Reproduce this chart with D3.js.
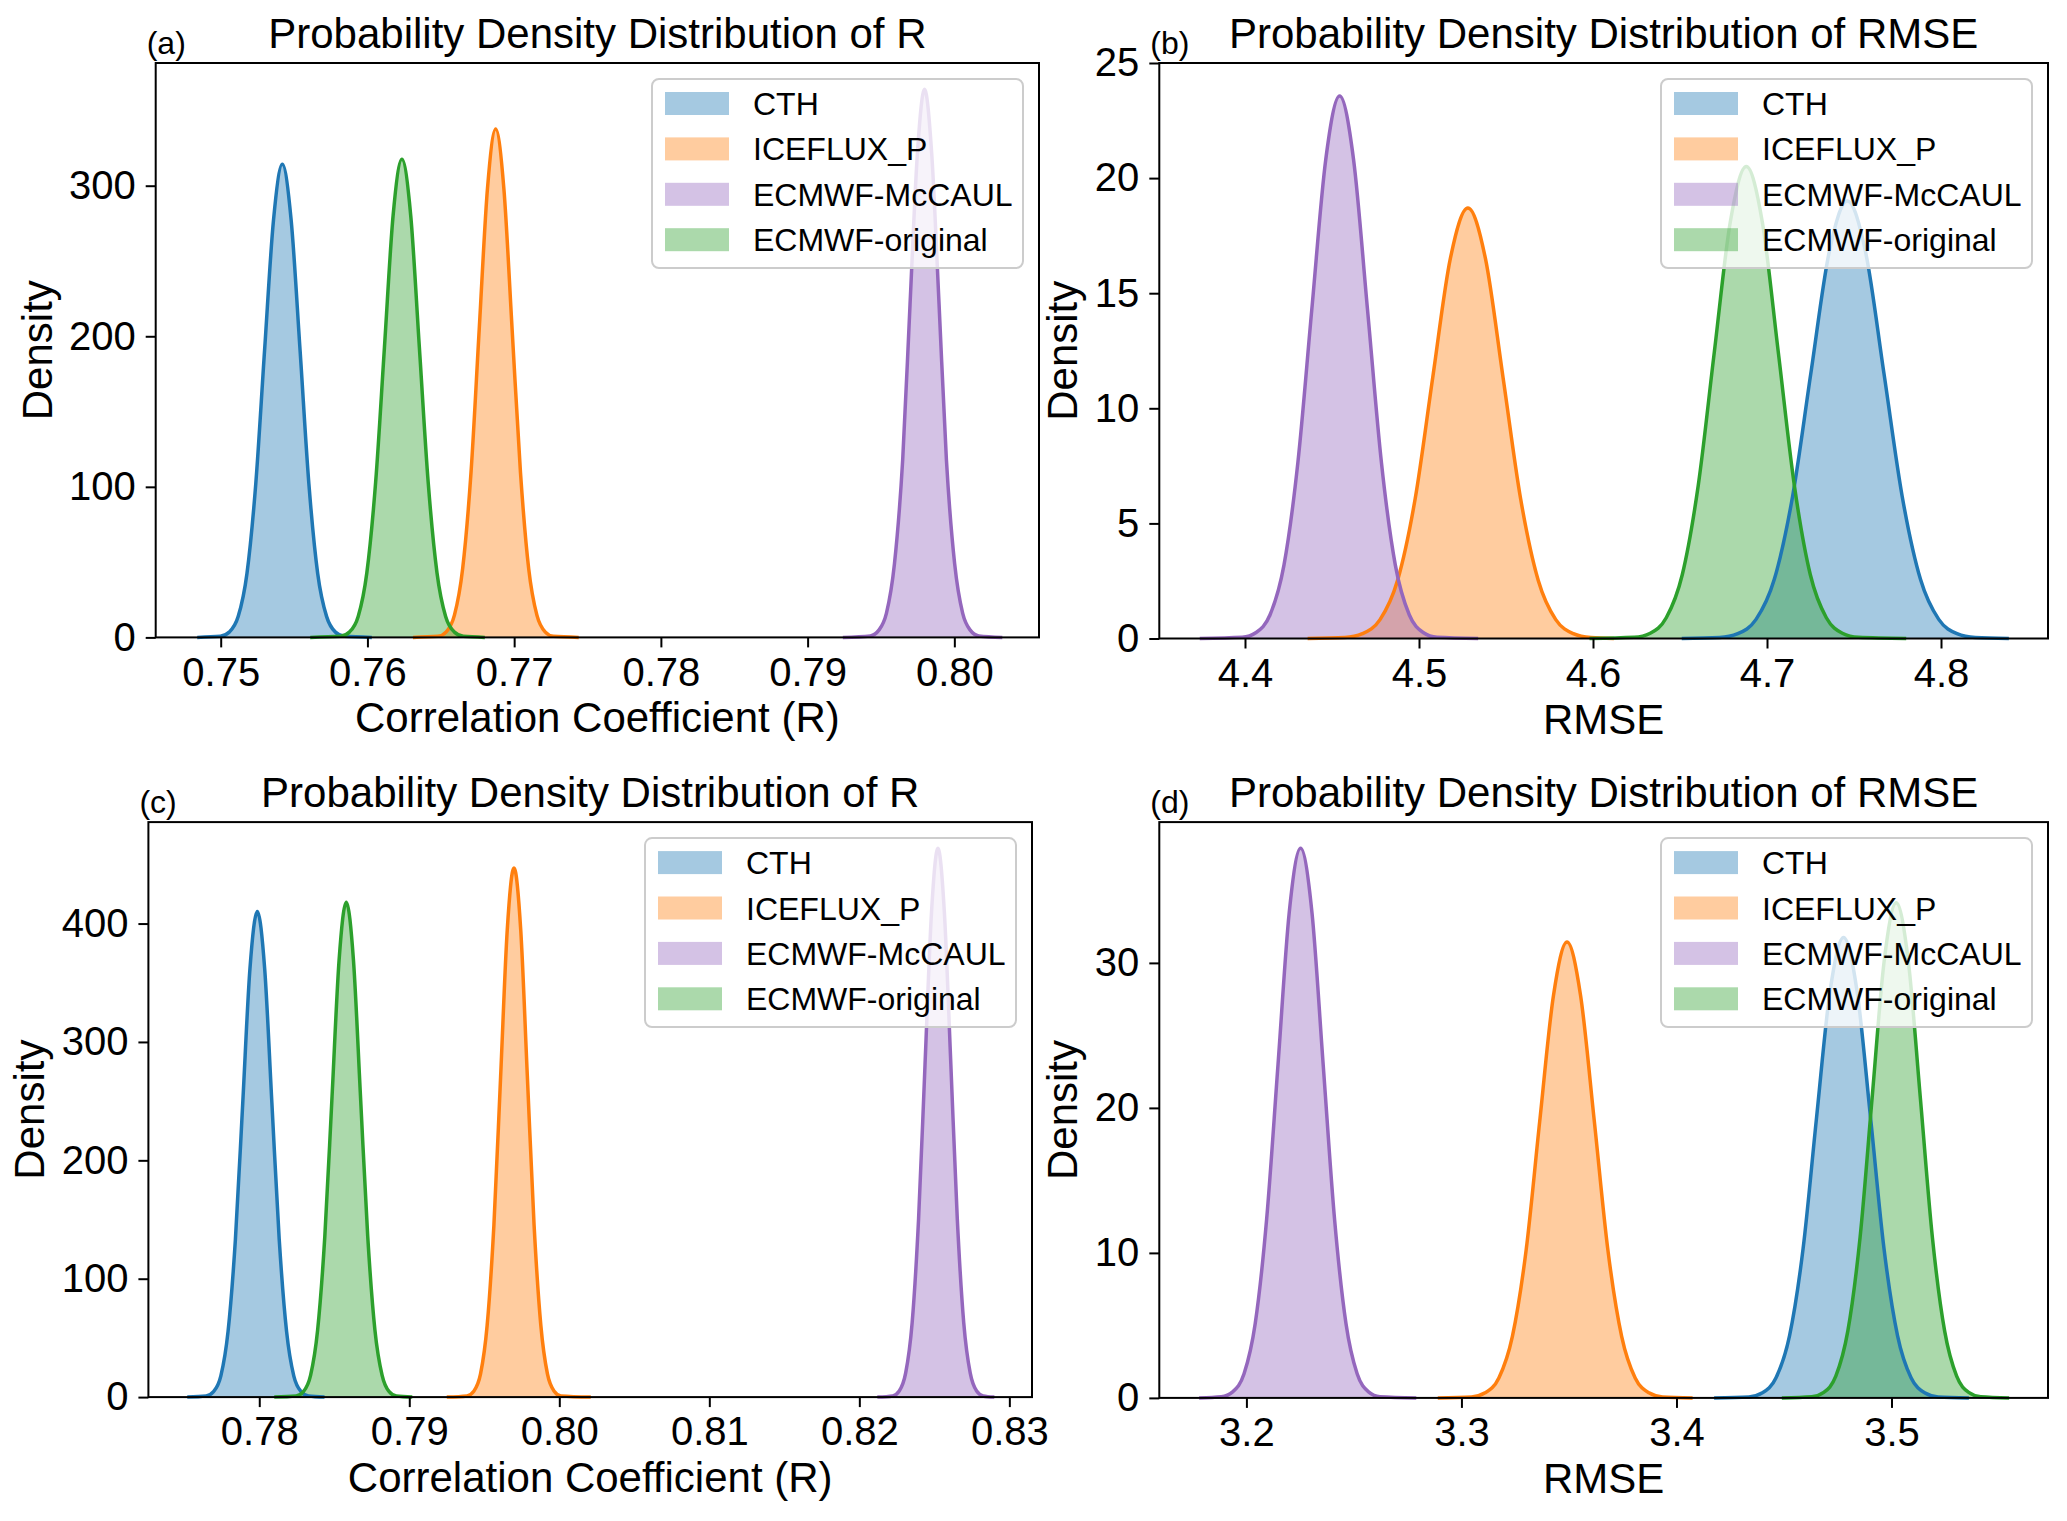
<!DOCTYPE html>
<html><head><meta charset="utf-8">
<script src="https://cdn.jsdelivr.net/npm/d3@7"></script>
<style>
body{margin:0;background:#fff}
svg{display:block}
text{font-family:"Liberation Sans", Arial, Helvetica, sans-serif;fill:#000}
</style>
</head><body>
<svg id="chart" width="2067" height="1521"></svg>
<script>
// ---------------- data ----------------
const seriesNames = ["CTH", "ICEFLUX_P", "ECMWF-McCAUL", "ECMWF-original"];
const seriesColors = ["#1f77b4", "#ff7f0e", "#9467bd", "#2ca02c"];
const panelLabels = ["(a)", "(b)", "(c)", "(d)"];
const panelTitles = ["Probability Density Distribution of R", "Probability Density Distribution of RMSE",
                     "Probability Density Distribution of R", "Probability Density Distribution of RMSE"];
const xAxisLabels = ["Correlation Coefficient (R)", "RMSE", "Correlation Coefficient (R)", "RMSE"];
const yAxisLabel = "Density";

const xTicksA = [0.75, 0.76, 0.77, 0.78, 0.79, 0.80];
const xTicksB = [4.4, 4.5, 4.6, 4.7, 4.8];
const xTicksC = [0.78, 0.79, 0.80, 0.81, 0.82, 0.83];
const xTicksD = [3.2, 3.3, 3.4, 3.5];
const yTicksA = [0, 100, 200, 300];
const yTicksB = [0, 5, 10, 15, 20, 25];
const yTicksC = [0, 100, 200, 300, 400];
const yTicksD = [0, 10, 20, 30];

const xDomainA = [0.74557, 0.80577], yDomainA = [0, 381.5];
const xDomainB = [4.35075, 4.86149], yDomainB = [0, 25.0];
const xDomainC = [0.77261, 0.83151], yDomainC = [0, 485.7];
const xDomainD = [3.15949, 3.57278], yDomainD = [0, 39.71];

// panel (a) densities of R
const a_CTH = [[0.7484,0],[0.74998,0.7],[0.75058,3.5],[0.75119,13.8],[0.75179,42.5],[0.75239,102.0],[0.75299,190.6],[0.75360,277.3],[0.75420,314.2],[0.75480,277.3],[0.75541,190.6],[0.75601,102.0],[0.75661,42.5],[0.75722,13.8],[0.75782,3.5],[0.75842,0.7],[0.7603,0]];
const a_ICE = [[0.7631,0],[0.76481,0.7],[0.76537,3.7],[0.76593,14.8],[0.76649,45.7],[0.76706,109.6],[0.76762,204.8],[0.76818,297.9],[0.76874,337.6],[0.76930,297.9],[0.76986,204.8],[0.77043,109.6],[0.77099,45.7],[0.77155,14.8],[0.77211,3.7],[0.77267,0.7],[0.7744,0]];
const a_McC = [[0.79240,0],[0.79427,1],[0.79487,5],[0.79537,16],[0.79592,49],[0.79648,118],[0.79698,221],[0.79748,321],[0.79797,364],[0.79846,321],[0.79896,221],[0.79946,118],[0.80002,49],[0.80057,16],[0.80107,5],[0.80167,1],[0.80327,0]];
const a_ORG = [[0.7561,0],[0.75817,0.7],[0.75877,3.5],[0.75937,13.9],[0.75996,43.0],[0.76056,103.1],[0.76116,192.6],[0.76175,280.2],[0.76235,317.5],[0.76295,280.2],[0.76354,192.6],[0.76414,103.1],[0.76474,43.0],[0.76533,13.9],[0.76593,3.5],[0.76653,0.7],[0.7680,0]];

// panel (b) densities of RMSE
const b_CTH = [[4.651,0],[4.6727,0.04],[4.6832,0.21],[4.6937,0.83],[4.7042,2.57],[4.7147,6.17],[4.7252,11.52],[4.7357,16.77],[4.7462,19.0],[4.7567,16.77],[4.7672,11.52],[4.7777,6.17],[4.7882,2.57],[4.7987,0.83],[4.8092,0.21],[4.8197,0.04],[4.839,0]];
const b_ICE = [[4.436,0],[4.4574,0.04],[4.4675,0.21],[4.4776,0.82],[4.4877,2.53],[4.4978,6.07],[4.5079,11.34],[4.5180,16.50],[4.5281,18.7],[4.5382,16.50],[4.5483,11.34],[4.5584,6.07],[4.5685,2.53],[4.5786,0.82],[4.5887,0.21],[4.5988,0.04],[4.612,0]];
const b_McC = [[4.374,0],[4.3984,0.05],[4.4064,0.26],[4.4144,1.03],[4.4224,3.19],[4.4304,7.65],[4.4384,14.30],[4.4464,20.80],[4.4544,23.57],[4.4624,20.80],[4.4704,14.30],[4.4784,7.65],[4.4864,3.19],[4.4944,1.03],[4.5024,0.26],[4.5104,0.05],[4.534,0]];
const b_ORG = [[4.598,0],[4.6237,0.05],[4.6329,0.23],[4.6421,0.90],[4.6513,2.77],[4.6605,6.66],[4.6697,12.43],[4.6789,18.09],[4.6881,20.5],[4.6973,18.09],[4.7065,12.43],[4.7157,6.66],[4.7249,2.77],[4.7341,0.90],[4.7433,0.23],[4.7525,0.05],[4.780,0]];

// panel (c) densities of R
const c_CTH = [[0.7752,0],[0.77646,0.9],[0.77695,4.6],[0.77744,18.0],[0.77792,55.5],[0.77841,133.2],[0.77890,248.8],[0.77938,362.0],[0.77987,410.2],[0.78036,362.0],[0.78084,248.8],[0.78133,133.2],[0.78182,55.5],[0.78230,18.0],[0.78279,4.6],[0.78328,0.9],[0.78435,0]];
const c_ICE = [[0.7925,0],[0.79385,1.0],[0.79430,5.0],[0.79475,19.6],[0.79519,60.5],[0.79564,145.1],[0.79609,271.1],[0.79653,394.5],[0.79698,447.0],[0.79743,394.5],[0.79787,271.1],[0.79832,145.1],[0.79877,60.5],[0.79921,19.6],[0.79966,5.0],[0.80011,1.0],[0.8021,0]];
const c_McC = [[0.8212,0],[0.82223,1.0],[0.82266,5.1],[0.82309,20.4],[0.82352,62.7],[0.82395,150.6],[0.82438,281.2],[0.82481,409.2],[0.82524,463.7],[0.82567,409.2],[0.82610,281.2],[0.82653,150.6],[0.82696,62.7],[0.82739,20.4],[0.82782,5.1],[0.82825,1.0],[0.8290,0]];
const c_ORG = [[0.7810,0],[0.78246,0.9],[0.78294,4.6],[0.78342,18.4],[0.78389,56.6],[0.78437,135.7],[0.78485,253.5],[0.78532,368.9],[0.78580,418.0],[0.78628,368.9],[0.78675,253.5],[0.78723,135.7],[0.78771,56.6],[0.78819,18.4],[0.78866,4.6],[0.78914,0.9],[0.7902,0]];

// panel (d) densities of RMSE
const d_CTH = [[3.4175,0],[3.4337,0.07],[3.4400,0.35],[3.4463,1.39],[3.4526,4.30],[3.4589,10.31],[3.4651,19.26],[3.4714,28.02],[3.4777,31.75],[3.4840,28.02],[3.4903,19.26],[3.4965,10.31],[3.5028,4.30],[3.5091,1.39],[3.5154,0.35],[3.5217,0.07],[3.536,0]];
const d_ICE = [[3.289,0],[3.3047,0.07],[3.3110,0.35],[3.3174,1.38],[3.3237,4.25],[3.3301,10.21],[3.3364,19.07],[3.3428,27.75],[3.3491,31.44],[3.3554,27.75],[3.3618,19.07],[3.3681,10.21],[3.3745,4.25],[3.3808,1.38],[3.3872,0.35],[3.3935,0.07],[3.4075,0]];
const d_McC = [[3.178,0],[3.1883,0.08],[3.1936,0.42],[3.1989,1.66],[3.2041,5.13],[3.2094,12.31],[3.2147,22.99],[3.2199,33.45],[3.2252,37.9],[3.2305,33.45],[3.2357,22.99],[3.2410,12.31],[3.2463,5.13],[3.2515,1.66],[3.2568,0.42],[3.2621,0.08],[3.279,0]];
const d_ORG = [[3.449,0],[3.4629,0.08],[3.4685,0.38],[3.4741,1.50],[3.4797,4.62],[3.4854,11.09],[3.4910,20.71],[3.4966,30.14],[3.5022,34.15],[3.5078,30.14],[3.5134,20.71],[3.5190,11.09],[3.5247,4.62],[3.5303,1.50],[3.5359,0.38],[3.5415,0.08],[3.5547,0]];

// ---------------- layout ----------------
const panels = [
  {box:[155.7, 63, 1039, 637.4], xd:xDomainA, yd:yDomainA, xt:xTicksA, yt:yTicksA, xf:".2f", ylo:104, series:[a_CTH,a_ICE,a_McC,a_ORG]},
  {box:[1159.3, 63, 2048, 638.5], xd:xDomainB, yd:yDomainB, xt:xTicksB, yt:yTicksB, xf:".1f", ylo:82, series:[b_CTH,b_ICE,b_McC,b_ORG]},
  {box:[148.4, 822.1, 1032, 1397.1], xd:xDomainC, yd:yDomainC, xt:xTicksC, yt:yTicksC, xf:".2f", ylo:104, series:[c_CTH,c_ICE,c_McC,c_ORG]},
  {box:[1159.3, 822.1, 2048, 1397.9], xd:xDomainD, yd:yDomainD, xt:xTicksD, yt:yTicksD, xf:".1f", ylo:82, series:[d_CTH,d_ICE,d_McC,d_ORG]}
];

const svg = d3.select("#chart");
svg.append("rect").attr("width", 2067).attr("height", 1521).attr("fill", "#fff");

panels.forEach((p, pi) => {
  const [L, T, R, B] = p.box;
  const x = d3.scaleLinear().domain(p.xd).range([L, R]);
  const y = d3.scaleLinear().domain(p.yd).range([B, T]);
  const g = svg.append("g");

  const area = d3.area().x(d => x(d[0])).y0(y(0)).y1(d => y(d[1])).curve(d3.curveMonotoneX);
  const line = d3.line().x(d => x(d[0])).y(d => y(d[1])).curve(d3.curveMonotoneX);

  p.series.forEach((s, si) => {
    g.append("path").attr("d", area(s)).attr("fill", seriesColors[si]).attr("fill-opacity", 0.4).attr("stroke", "none");
  });
  p.series.forEach((s, si) => {
    g.append("path").attr("d", line(s)).attr("fill", "none").attr("stroke", seriesColors[si])
      .attr("stroke-width", 3.5).attr("stroke-linejoin", "round");
  });

  // axes
  const xa = g.append("g").attr("transform", `translate(0,${B})`)
    .call(d3.axisBottom(x).tickValues(p.xt).tickFormat(d3.format(p.xf)).tickSize(10).tickPadding(10));
  const ya = g.append("g").attr("transform", `translate(${L},0)`)
    .call(d3.axisLeft(y).tickValues(p.yt).tickFormat(d3.format("d")).tickSize(10).tickPadding(10));
  [xa, ya].forEach(a => {
    a.select(".domain").remove();
    a.selectAll(".tick line").attr("stroke", "#000").attr("stroke-width", 2);
    a.selectAll(".tick text").attr("font-size", 40).attr("fill", "#000")
      .style("font-family", '"Liberation Sans", Arial, sans-serif');
  });

  // frame
  g.append("rect").attr("x", L).attr("y", T).attr("width", R - L).attr("height", B - T)
    .attr("fill", "none").attr("stroke", "#000").attr("stroke-width", 2);

  // title, panel label, axis labels
  g.append("text").attr("x", (L + R) / 2).attr("y", T - 15.5).attr("text-anchor", "middle")
    .attr("font-size", 42).text(panelTitles[pi]);
  g.append("text").attr("x", L - 9).attr("y", T - 9).attr("font-size", 32).text(panelLabels[pi]);
  g.append("text").attr("x", (L + R) / 2).attr("y", B + 95).attr("text-anchor", "middle")
    .attr("font-size", 42).text(xAxisLabels[pi]);
  g.append("text").attr("transform", `translate(${L - p.ylo},${(T + B) / 2}) rotate(-90)`)
    .attr("text-anchor", "middle").attr("font-size", 42).text(yAxisLabel);

  // legend
  const lw = 371, lh = 189;
  const lx = R - 16 - lw, ly = T + 16;
  const lg = g.append("g");
  lg.append("rect").attr("x", lx).attr("y", ly).attr("width", lw).attr("height", lh)
    .attr("rx", 7).attr("fill", "#fff").attr("fill-opacity", 0.8)
    .attr("stroke", "#cccccc").attr("stroke-width", 2);
  seriesNames.forEach((n, si) => {
    const cy = ly + 24.5 + si * 45.4;
    lg.append("rect").attr("x", lx + 13).attr("y", cy - 11.5).attr("width", 64).attr("height", 23)
      .attr("fill", seriesColors[si]).attr("fill-opacity", 0.4);
    lg.append("text").attr("x", lx + 101).attr("y", cy + 11.5).attr("font-size", 32).text(n);
  });
});
</script>
</body></html>
